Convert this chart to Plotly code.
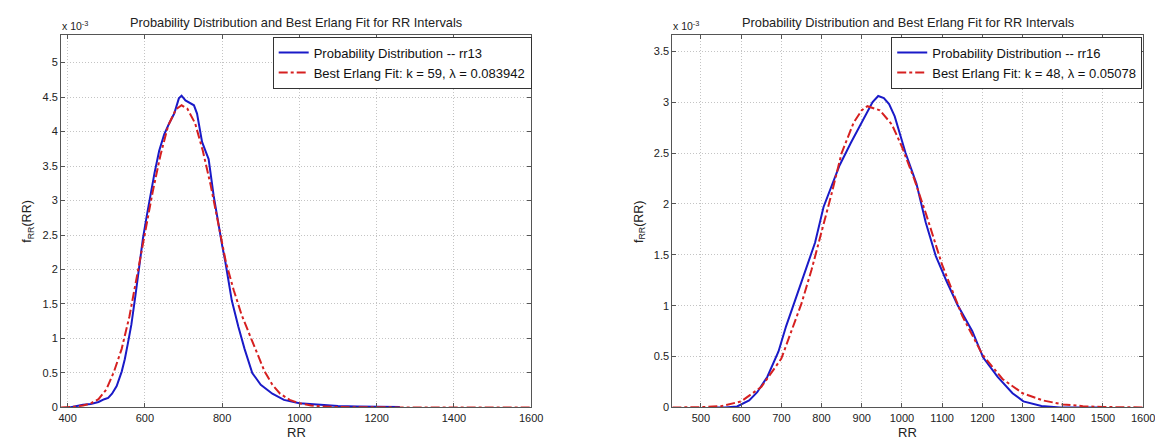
import plotly.graph_objects as go

W, H = 1163, 441

# ---- Left panel (rr13) ----
rr13_x = [405, 420, 440, 460, 480, 495, 505, 515, 527, 540, 548, 556, 565, 575, 585, 595, 605,
          615, 625, 637, 650, 663, 676, 688, 695, 705, 718, 727, 735, 748, 758, 765, 778, 790,
          800, 808, 816, 825, 842, 858, 878, 900, 930, 960, 1000, 1040, 1060, 1080, 1100, 1150,
          1200, 1260]
rr13_y = [0.0, 0.02, 0.04, 0.05, 0.08, 0.12, 0.14, 0.2, 0.31, 0.52, 0.7, 0.93, 1.2, 1.6, 2.05,
          2.45, 2.78, 3.1, 3.4, 3.72, 3.96, 4.12, 4.26, 4.48, 4.52, 4.45, 4.41, 4.38, 4.26, 3.85,
          3.7, 3.6, 3.07, 2.64, 2.35, 2.12, 1.83, 1.55, 1.17, 0.85, 0.5, 0.33, 0.2, 0.11, 0.06,
          0.04, 0.04, 0.03, 0.02, 0.015, 0.012, 0.008]

fit13_x = [383, 400, 420, 440, 460, 480, 500, 520, 540, 560, 580, 600, 620, 640, 660, 680, 695,
           710, 730, 750, 770, 790, 810, 830, 850, 870, 890, 910, 930, 950, 975, 1000, 1030,
           1060, 1100, 1200, 1300, 1600]
fit13_y = [0.0, 0.005, 0.012, 0.03, 0.06, 0.12, 0.26, 0.52, 0.85, 1.32, 1.9, 2.52, 3.12, 3.65,
           4.08, 4.32, 4.38, 4.33, 4.12, 3.72, 3.23, 2.65, 2.1, 1.7, 1.35, 1.07, 0.78, 0.52, 0.33,
           0.2, 0.11, 0.06, 0.03, 0.015, 0.006, 0.002, 0.0, 0.0]

# ---- Right panel (rr16) ----
rr16_x = [530, 560, 590, 620, 640, 665, 693, 712, 734, 756, 784, 805, 820, 845, 873, 900, 927,
          941, 955, 968, 982, 1009, 1036, 1059, 1084, 1111, 1138, 1175, 1202, 1238, 1275, 1302,
          1347, 1393, 1500]
rr16_y = [0.0, 0.0, 0.01, 0.07, 0.15, 0.3, 0.55, 0.8, 1.05, 1.3, 1.62, 1.97, 2.12, 2.38, 2.6,
          2.8, 3.0, 3.06, 3.04, 2.98, 2.86, 2.5, 2.2, 1.82, 1.49, 1.24, 1.01, 0.75, 0.49, 0.3,
          0.14, 0.06, 0.015, 0.0, 0.0]

fit16_x = [429, 500, 550, 600, 650, 700, 725, 750, 775, 800, 825, 850, 880, 900, 914, 945, 975,
           1000, 1030, 1060, 1100, 1150, 1200, 1250, 1300, 1350, 1400, 1450, 1500, 1600]
fit16_y = [0.0, 0.003, 0.013, 0.06, 0.2, 0.48, 0.75, 1.02, 1.35, 1.72, 2.1, 2.5, 2.8, 2.92,
           2.96, 2.92, 2.78, 2.56, 2.25, 1.9, 1.4, 0.9, 0.52, 0.28, 0.14, 0.07, 0.03, 0.013,
           0.005, 0.0]

x1_ticks = [400, 600, 800, 1000, 1200, 1400, 1600]
x2_ticks = [500, 600, 700, 800, 900, 1000, 1100, 1200, 1300, 1400, 1500, 1600]
y1_ticks = [0, 0.5, 1, 1.5, 2, 2.5, 3, 3.5, 4, 4.5, 5]
y2_ticks = [0, 0.5, 1, 1.5, 2, 2.5, 3, 3.5]

name13 = "Probability Distribution -- rr13"
fitname13 = "Best Erlang Fit: k = 59, λ = 0.083942"
name16 = "Probability Distribution -- rr16"
fitname16 = "Best Erlang Fit: k = 48, λ = 0.05078"

BLUE = "#1a1ac8"
RED = "#d62020"
FONT = "Liberation Sans, Arial, sans-serif"

fig = go.Figure()
fig.add_trace(go.Scatter(x=rr13_x, y=rr13_y, mode="lines", name=name13,
                         line=dict(color=BLUE, width=2), xaxis="x", yaxis="y", legend="legend"))
fig.add_trace(go.Scatter(x=fit13_x, y=fit13_y, mode="lines", name=fitname13,
                         line=dict(color=RED, width=2, dash="dashdot"), xaxis="x", yaxis="y",
                         legend="legend"))
fig.add_trace(go.Scatter(x=rr16_x, y=rr16_y, mode="lines", name=name16,
                         line=dict(color=BLUE, width=2), xaxis="x2", yaxis="y2", legend="legend2"))
fig.add_trace(go.Scatter(x=fit16_x, y=fit16_y, mode="lines", name=fitname16,
                         line=dict(color=RED, width=2, dash="dashdot"), xaxis="x2", yaxis="y2",
                         legend="legend2"))

def px(x):
    return x / W

def py(y):
    return 1 - y / H

L1, R1 = 50.7, 527.0
L2, R2 = 670.0, 1147.0
TOP, BOT = 27.3, 405.0

axis_common = dict(showline=True, linecolor="#555", linewidth=1, mirror="allticks",
                   ticks="inside", ticklen=4, tickcolor="#555",
                   showgrid=True, gridcolor="#c4c4c4", griddash="1px,2px", gridwidth=1,
                   zeroline=False, tickfont=dict(family=FONT, size=11, color="#222"))

legend_common = dict(xanchor="right", yanchor="top", bgcolor="white", bordercolor="#333",
                     borderwidth=1, font=dict(family=FONT, size=13, color="#111"),
                     tracegroupgap=0, itemwidth=30)

fig.update_layout(
    width=W, height=H,
    margin=dict(l=0, r=0, t=0, b=0),
    paper_bgcolor="white", plot_bgcolor="white",
    font=dict(family=FONT, size=11, color="#222"),
    xaxis=dict(domain=[px(L1), px(R1)], range=[383, 1600], tickvals=x1_ticks, anchor="y",
               **axis_common),
    yaxis=dict(domain=[py(BOT), py(TOP)], range=[0, 5.4], tickvals=y1_ticks, anchor="x",
               **axis_common),
    xaxis2=dict(domain=[px(L2), px(R2)], range=[429, 1600], tickvals=x2_ticks, anchor="y2",
                **axis_common),
    yaxis2=dict(domain=[py(BOT), py(TOP)], range=[0, 3.66], tickvals=y2_ticks, anchor="x2",
                **axis_common),
    legend=dict(x=px(527.5), y=py(29), **legend_common),
    legend2=dict(x=px(1146), y=py(29), **legend_common),
    showlegend=True,
)

title = "Probability Distribution and Best Erlang Fit for RR Intervals"
ann = []
for (l, r) in [(L1, R1), (L2, R2)]:
    c = (l + r) / 2
    ann.append(dict(text=title, x=px(c), y=py(14.5), xref="paper", yref="paper",
                    showarrow=False, xanchor="center", yanchor="middle",
                    font=dict(family=FONT, size=12.8, color="#222")))
    ann.append(dict(text="RR", x=px(c), y=py(430), xref="paper", yref="paper",
                    showarrow=False, xanchor="center", yanchor="middle",
                    font=dict(family=FONT, size=13, color="#222")))
    ann.append(dict(text="x 10<sup>-3</sup>", x=px(l - 1), y=py(18), xref="paper", yref="paper",
                    showarrow=False, xanchor="left", yanchor="middle",
                    font=dict(family=FONT, size=10.5, color="#222")))
    ann.append(dict(text="f<sub>RR</sub>(RR)", x=px(l - 33), y=py((TOP + BOT) / 2),
                    xref="paper", yref="paper", showarrow=False, textangle=-90,
                    xanchor="center", yanchor="middle",
                    font=dict(family=FONT, size=12.5, color="#222")))
fig.update_layout(annotations=ann)

fig.write_html("out.html")
